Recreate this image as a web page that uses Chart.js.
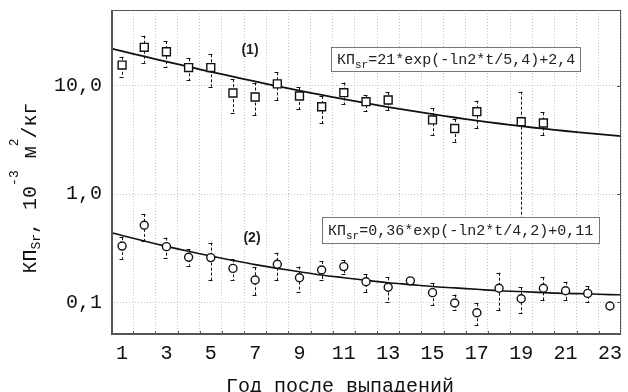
<!DOCTYPE html>
<html>
<head>
<meta charset="utf-8">
<script src="https://cdn.jsdelivr.net/npm/chart.js@4.4.1/dist/chart.umd.min.js"></script>
<style>
body { margin: 0; background: #fff; }
canvas { display: block; }
</style>
</head>
<body>
<canvas id="myChart" width="628" height="392"></canvas>
<script>
// series (1) - squares
let years1 = [1, 2, 3, 4, 5, 6, 7, 8, 9, 10, 11, 12, 13, 15, 16, 17, 19, 20];
let kp1 = [15.5, 22.6, 20.6, 14.7, 14.7, 8.57, 7.87, 10.4, 8.04, 6.40, 8.62, 7.12, 7.38, 4.83, 4.03, 5.76, 4.66, 4.53];
let kp1Hi = [18.5, 28.9, 25.9, 17.9, 19.5, 11.5, 10.7, 13.3, 9.73, 8.04, 10.7, 8.21, 8.70, 6.19, 4.93, 7.27, 8.81, 5.66];
let kp1Lo = [12.1, 16.3, 15.0, 11.3, 9.8, 5.57, 5.37, 7.38, 6.10, 4.50, 6.74, 5.84, 5.97, 3.51, 3.04, 4.05, 0.55, 3.51];

// series (2) - circles
let years2 = [1, 2, 3, 4, 5, 6, 7, 8, 9, 10, 11, 12, 13, 14, 15, 16, 17, 18, 19, 20, 21, 22, 23];
let kp2 = [0.331, 0.515, 0.327, 0.261, 0.259, 0.206, 0.161, 0.225, 0.169, 0.199, 0.214, 0.155, 0.138, 0.158, 0.123, 0.0987, 0.0803, 0.135, 0.108, 0.135, 0.128, 0.121, 0.0926];
let kp2Hi = [0.401, 0.655, 0.396, 0.309, 0.356, 0.250, 0.211, 0.287, 0.214, 0.241, 0.246, 0.183, 0.170, null, 0.150, 0.118, 0.098, 0.188, 0.138, 0.170, 0.155, 0.142, null];
let kp2Lo = [0.253, 0.369, 0.255, 0.218, 0.161, 0.161, 0.117, 0.161, 0.125, 0.161, 0.183, 0.125, 0.101, null, 0.0946, 0.085, 0.0618, 0.085, 0.0793, 0.105, 0.105, 0.101, null];

// fitted curves
let fitYears = [0.5, 1, 2, 3, 4, 5, 6, 7, 8, 9, 10, 11, 12, 13, 14, 15, 16, 17, 18, 19, 20, 21, 22, 23, 23.5];
let fit1 = [22.09, 20.87, 18.65, 16.69, 14.97, 13.45, 12.12, 10.95, 9.92, 9.01, 8.22, 7.52, 6.90, 6.36, 5.88, 5.46, 5.09, 4.77, 4.48, 4.23, 4.01, 3.82, 3.65, 3.50, 3.43];
let fit2 = [0.441, 0.415, 0.369, 0.329, 0.296, 0.268, 0.244, 0.223, 0.206, 0.192, 0.179, 0.169, 0.160, 0.152, 0.146, 0.140, 0.136, 0.132, 0.128, 0.126, 0.123, 0.121, 0.120, 0.118, 0.1175];

let xTicks = [1, 2, 3, 4, 5, 6, 7, 8, 9, 10, 11, 12, 13, 14, 15, 16, 17, 18, 19, 20, 21, 22, 23];
let yTicks = [0.1, 1, 10];
let yTickLabels = ['0,1', '1,0', '10,0'];

const formula1 = '=21*exp(-ln2*t/5,4)+2,4';
const formula2 = '=0,36*exp(-ln2*t/4,2)+0,11';
const xTitle = 'Год после выпадений';

const mono = '"Liberation Mono", "DejaVu Sans Mono", monospace';

const toPoints = (xs, ys) => xs.map((x, i) => ({x: x, y: ys[i]}));

function errorBars(ctx, chart, xs, hi, lo) {
    const sx = chart.scales.x, sy = chart.scales.y;
    ctx.save();
    ctx.strokeStyle = '#111';
    ctx.lineWidth = 1;
    xs.forEach((x, i) => {
        if (hi[i] == null) return;
        const px = Math.round(sx.getPixelForValue(x)) + 0.5;
        const y1 = sy.getPixelForValue(hi[i]);
        const y2 = sy.getPixelForValue(lo[i]);
        ctx.setLineDash([3, 2]);
        ctx.beginPath();
        ctx.moveTo(px, y1);
        ctx.lineTo(px, y2);
        ctx.stroke();
        ctx.setLineDash([]);
        ctx.beginPath();
        ctx.moveTo(px - 3, Math.round(y1) + 0.5);
        ctx.lineTo(px + 1, Math.round(y1) + 0.5);
        ctx.moveTo(px - 3, Math.round(y2) + 0.5);
        ctx.lineTo(px + 1, Math.round(y2) + 0.5);
        ctx.stroke();
    });
    ctx.restore();
}

function formulaBox(ctx, x, y, w, h, tail) {
    ctx.save();
    ctx.fillStyle = '#fff';
    ctx.fillRect(x, y, w, h);
    ctx.strokeStyle = '#777';
    ctx.lineWidth = 1;
    ctx.strokeRect(x + 0.5, y + 0.5, w, h);
    ctx.fillStyle = '#222';
    ctx.textAlign = 'left';
    ctx.textBaseline = 'alphabetic';
    let tx = x + 6;
    const by = y + h / 2 + 5;
    ctx.font = '15px ' + mono;
    ctx.fillText('КП', tx, by);
    tx += ctx.measureText('КП').width;
    ctx.font = '11px ' + mono;
    ctx.fillText('sr', tx, by + 4);
    tx += ctx.measureText('sr').width;
    ctx.font = '15px ' + mono;
    ctx.fillText(tail, tx, by);
    ctx.restore();
}

function yTitle(ctx, cx, cy) {
    const parts = [
        ['КП', 20, 8], ['Sr', 13, 12], [', 10', 20, 8], ['-3', 13, -10],
        [' м', 20, 8], ['2', 13, -10], ['/кг', 20, 8]
    ];
    ctx.save();
    ctx.translate(cx, cy);
    ctx.rotate(-Math.PI / 2);
    ctx.fillStyle = '#111';
    ctx.textAlign = 'left';
    ctx.textBaseline = 'alphabetic';
    let total = 0;
    parts.forEach(p => { ctx.font = p[1] + 'px ' + mono; total += ctx.measureText(p[0]).width; });
    let u = -total / 2;
    parts.forEach(p => {
        ctx.font = p[1] + 'px ' + mono;
        ctx.fillText(p[0], u, p[2]);
        u += ctx.measureText(p[0]).width;
    });
    ctx.restore();
}

const decor = {
    id: 'decor',
    beforeDatasetsDraw(chart) {
        errorBars(chart.ctx, chart, years1, kp1Hi, kp1Lo);
        errorBars(chart.ctx, chart, years2, kp2Hi, kp2Lo);
    },
    afterDatasetsDraw(chart) {
        const ctx = chart.ctx;
        const a = chart.chartArea;
        const sx = chart.scales.x, sy = chart.scales.y;

        // frame
        ctx.save();
        ctx.strokeStyle = '#555';
        ctx.lineWidth = 1;
        ctx.strokeRect(a.left + 0.5, a.top + 0.5, a.right - a.left - 1, a.bottom - a.top - 1);
        ctx.lineWidth = 2;
        ctx.beginPath();
        ctx.moveTo(a.left + 1, a.top);
        ctx.lineTo(a.left + 1, a.bottom - 1);
        ctx.lineTo(a.right, a.bottom - 1);
        ctx.stroke();
        // inward ticks
        ctx.lineWidth = 1;
        ctx.beginPath();
        for (let i = 1; i < xTicks.length; i++) {
            const px = Math.round(sx.getPixelForValue(xTicks[i] - 0.5)) + 0.5;
            ctx.moveTo(px, a.bottom);
            ctx.lineTo(px, a.bottom - 4);
        }
        yTicks.forEach(v => {
            const py = Math.round(sy.getPixelForValue(v)) + 0.5;
            ctx.moveTo(a.right, py);
            ctx.lineTo(a.right - 4, py);
        });
        ctx.stroke();
        ctx.restore();

        formulaBox(ctx, 331, 47, 249, 24, formula1);
        formulaBox(ctx, 322, 217, 277, 26, formula2);

        ctx.save();
        ctx.fillStyle = '#222';
        ctx.font = 'bold 14px "Liberation Sans", Arial, sans-serif';
        ctx.textAlign = 'center';
        ctx.textBaseline = 'middle';
        ctx.fillText('(1)', 250, 50);
        ctx.fillText('(2)', 252, 238);
        ctx.font = '20px ' + mono;
        ctx.fillStyle = '#111';
        ctx.fillText(xTitle, 340, 387);
        ctx.restore();

        yTitle(ctx, 28, 188);
    }
};

new Chart('myChart', {
    type: 'scatter',
    data: {
        datasets: [
            {
                data: toPoints(years1, kp1),
                pointStyle: 'rect',
                pointRadius: 5.6,
                pointBorderWidth: 1.4,
                pointBackgroundColor: '#fff',
                pointBorderColor: '#111',
                showLine: false,
                order: 1
            },
            {
                data: toPoints(years2, kp2),
                pointStyle: 'circle',
                pointRadius: 4,
                pointBorderWidth: 1.4,
                pointBackgroundColor: '#fff',
                pointBorderColor: '#111',
                showLine: false,
                order: 1
            },
            {
                data: toPoints(fitYears, fit1),
                showLine: true,
                pointRadius: 0,
                borderColor: '#111',
                borderWidth: 1.8,
                tension: 0.3,
                order: 2
            },
            {
                data: toPoints(fitYears, fit2),
                showLine: true,
                pointRadius: 0,
                borderColor: '#111',
                borderWidth: 1.6,
                tension: 0.3,
                order: 2
            }
        ]
    },
    options: {
        responsive: false,
        animation: false,
        devicePixelRatio: 1,
        layout: {padding: {top: 10, right: 3, left: 0, bottom: 0}},
        plugins: {legend: {display: false}, tooltip: {enabled: false}},
        scales: {
            x: {
                type: 'linear',
                min: 0.5,
                max: 23.5,
                afterBuildTicks: s => { s.ticks = xTicks.map(v => ({value: v})); },
                afterFit: s => { s.height = 57; s.paddingLeft = 0; s.paddingRight = 0; },
                grid: {offset: true, color: '#c4c4c4', drawTicks: false},
                border: {display: false, dash: [1, 2]},
                ticks: {
                    autoSkip: false,
                    maxRotation: 0,
                    padding: 7,
                    color: '#111',
                    font: {family: mono, size: 20},
                    callback: v => (v % 2 ? String(v) : '')
                }
            },
            y: {
                type: 'logarithmic',
                min: 0.05,
                max: 50,
                afterBuildTicks: s => { s.ticks = yTicks.map(v => ({value: v})); },
                afterFit: s => { s.width = 111; s.paddingTop = 0; s.paddingBottom = 0; },
                grid: {color: '#c4c4c4', drawTicks: false},
                border: {display: false, dash: [1, 2]},
                ticks: {
                    padding: 9,
                    color: '#111',
                    font: {family: mono, size: 20},
                    callback: (v, i) => yTickLabels[i]
                }
            }
        }
    },
    plugins: [decor]
});
</script>
</body>
</html>
